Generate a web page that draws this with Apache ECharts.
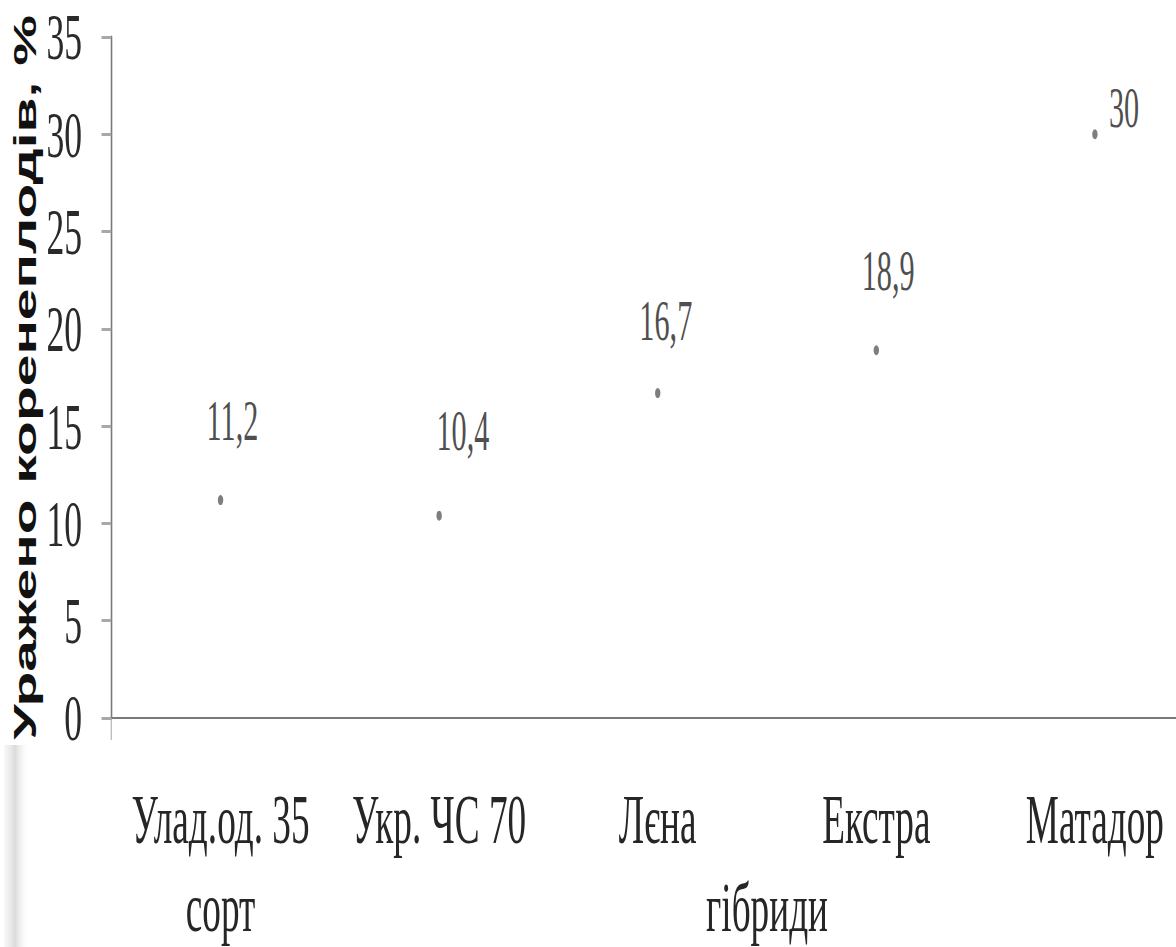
<!DOCTYPE html>
<html>
<head>
<meta charset="utf-8">
<script src="https://cdn.jsdelivr.net/npm/echarts@6/dist/echarts.min.js"></script>
<style>
  html, body { margin: 0; padding: 0; background: #fff; overflow: hidden; }
  #wrap { width: 1176px; height: 947px; overflow: hidden; }
  /* the chart is laid out wide and then condensed horizontally */
  #chart { width: 2178px; height: 947px; transform: scaleX(0.54); transform-origin: 0 0; }
</style>
</head>
<body>
<div id="wrap"><div id="chart"></div></div>
<script>
// varieties and hybrids
const categories = ['Улад.од. 35', 'Укр. ЧС 70', 'Лєна', 'Екстра', 'Матадор'];
// share of affected roots, %
const affected = [11.2, 10.4, 16.7, 18.9, 30];
// group captions under the category labels, placed at category positions
const groupNames = ['сорт', 'гібриди'];
const groupPositions = [0, 2.5];
const yTitle = 'Уражено коренеплодів, %';

// label offsets (px, before condensing) for each value label
const labelShift = [[22, -79], [44, -84], [15, -72], [22, -79], [54, -26]];

const serif = "'Liberation Serif', 'Times New Roman', serif";
const axisGray = '#7a7a7a';

const chart = echarts.init(document.getElementById('chart'), null, { renderer: 'svg' });

chart.setOption({
  backgroundColor: '#ffffff',
  animation: false,
  grid: {
    left: 206, top: 37, width: 2024, height: 681,
    containLabel: false, outerBoundsMode: 'none'
  },
  xAxis: [
    {
      type: 'category',
      data: categories,
      boundaryGap: true,
      axisLine: { show: true, onZero: false, lineStyle: { color: axisGray, width: 2 } },
      axisTick: { show: true, length: 22, interval: (i) => i === 2, lineStyle: { color: '#aaaaaa', width: 2 } },
      axisLabel: {
        show: true, interval: 0, margin: 102, verticalAlign: 'middle',
        fontFamily: serif, fontSize: 69, color: '#262626'
      },
      splitLine: { show: false }
    },
    {
      type: 'value', min: -0.5, max: 4.5, show: false
    }
  ],
  yAxis: {
    type: 'value',
    min: 0, max: 35, interval: 5,
    name: yTitle,
    nameLocation: 'middle',
    nameRotate: 90,
    nameGap: 104,
    nameTextStyle: {
      fontFamily: "'Liberation Sans', Arial, sans-serif", fontWeight: 'bold',
      fontSize: 57, color: '#111111'
    },
    axisLine: { show: true, onZero: false, lineStyle: { color: axisGray, width: 3 } },
    axisTick: { show: true, length: 18, lineStyle: { color: '#a8a8a8', width: 3 } },
    axisLabel: {
      margin: 54, fontFamily: serif, fontSize: 66, color: '#2a2a2a',
      padding: [12, 0, 0, 0]
    },
    splitLine: { show: false }
  },
  graphic: [
    {
      type: 'rect', silent: true, z: -1,
      shape: { x: 8, y: 745, width: 44, height: 202 },
      style: {
        fill: {
          type: 'linear', x: 0, y: 0, x2: 1, y2: 0,
          colorStops: [
            { offset: 0, color: 'rgba(215,215,215,0.2)' },
            { offset: 0.45, color: 'rgba(175,175,175,0.45)' },
            { offset: 1, color: 'rgba(235,235,235,0)' }
          ]
        }
      }
    }
  ],
  series: [
    {
      type: 'scatter',
      xAxisIndex: 0,
      symbol: 'circle',
      symbolSize: 10,
      itemStyle: { color: '#5e5e5e' },
      data: affected.map((v, i) => ({
        value: v,
        label: { offset: labelShift[i] }
      })),
      label: {
        show: true,
        position: 'inside',
        fontFamily: serif,
        fontSize: 56,
        color: '#1e1e1e',
        formatter: (p) => String(p.value).replace('.', ',')
      }
    },
    {
      type: 'custom',
      xAxisIndex: 1,
      yAxisIndex: 0,
      silent: true,
      data: groupPositions.map((x, i) => [x, i]),
      renderItem: (params, api) => {
        const pt = api.coord([api.value(0), 0]);
        return {
          type: 'text',
          x: pt[0],
          y: pt[1] + 190,
          style: {
            text: groupNames[api.value(1)],
            font: '69px ' + serif,
            fill: '#262626',
            textAlign: 'center',
            textVerticalAlign: 'middle'
          }
        };
      }
    }
  ]
});
</script>
</body>
</html>
